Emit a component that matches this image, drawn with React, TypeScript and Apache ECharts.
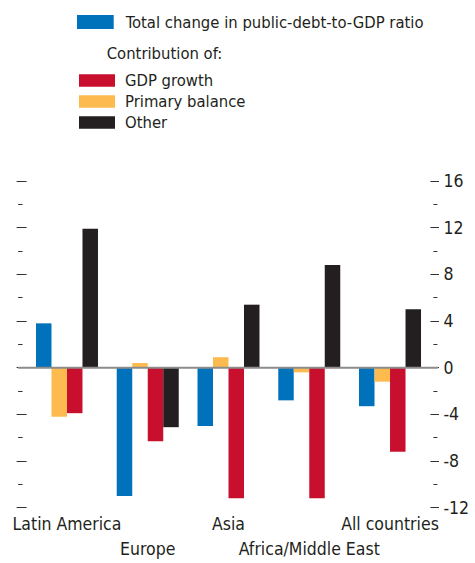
import React, { useEffect, useRef } from 'react';
import * as echarts from 'echarts';

const categories = ['Latin America', 'Europe', 'Asia', 'Africa/Middle East', 'All countries'];
const totalChange = [3.8, -11.0, -5.0, -2.8, -3.3];
const primaryBalance = [-4.2, 0.4, 0.9, -0.4, -1.2];
const gdpGrowth = [-3.9, -6.3, -11.2, -11.2, -7.2];
const other = [11.9, -5.1, 5.4, 8.8, 5.0];

const Y_MIN = -12;
const Y_MAX = 16;

const FONT = "'Liberation Sans Narrow', 'Arial Narrow', 'DejaVu Sans Condensed', sans-serif";
const INK = '#231F20';
const BLUE = '#0072BC';
const RED = '#C8102E';
const YELLOW = '#FDBB4F';
const BLACK = '#231F20';

const NAME_TOTAL = 'Total change in public-debt-to-GDP ratio';
const NAME_GDP = 'GDP growth';
const NAME_PB = 'Primary balance';
const NAME_OTHER = 'Other';

export default function App() {
  const ref = useRef<HTMLDivElement>(null);
  useEffect(() => {
    document.body.style.margin = '0';
    if (!ref.current) return;
    const chart = echarts.init(ref.current, undefined, { renderer: 'svg' });
    const baseY = {
      type: 'value' as const,
      min: Y_MIN,
      max: Y_MAX,
      splitLine: { show: false },
      axisLine: { show: false },
    };
    chart.setOption({
      animation: false,
      textStyle: { fontFamily: FONT },
      grid: { left: 26.6, right: 44.6, top: 181, bottom: 55.3, containLabel: false },
      legend: [
        {
          data: [NAME_TOTAL],
          left: 72,
          top: 8,
          itemWidth: 36.7,
          itemHeight: 14,
          icon: 'rect',
          selectedMode: false,
          textStyle: { fontFamily: FONT, fontSize: 16.5, color: INK, padding: [0, 0, 0, 7], lineHeight: 18 },
        },
        {
          data: [NAME_GDP, NAME_PB, NAME_OTHER],
          orient: 'vertical',
          left: 74,
          top: 66.5,
          itemWidth: 36,
          itemHeight: 12.7,
          itemGap: 3,
          icon: 'rect',
          selectedMode: false,
          textStyle: { fontFamily: FONT, fontSize: 16.5, color: INK, padding: [0, 0, 0, 5], lineHeight: 18 },
        },
      ],
      xAxis: {
        type: 'category',
        data: categories,
        axisLine: { lineStyle: { color: '#333', width: 1 } },
        axisTick: { inside: true, length: 9, alignWithLabel: true, lineStyle: { color: '#333' } },
        axisLabel: {
          interval: 0,
          fontSize: 17.5,
          lineHeight: 25,
          margin: 4,
          color: INK,
          fontFamily: FONT,
          formatter: (v: string, i: number) => (i % 2 ? '\n' + v : v),
        },
      },
      yAxis: [
        {
          ...baseY,
          position: 'left',
          interval: 4,
          axisTick: { show: true, length: 10, lineStyle: { color: '#333' } },
          axisLabel: { show: false },
        },
        {
          ...baseY,
          position: 'left',
          offset: 4,
          interval: 2,
          axisTick: { show: true, length: 4.5, lineStyle: { color: '#333' } },
          axisLabel: { show: false },
        },
        {
          ...baseY,
          position: 'right',
          interval: 4,
          axisTick: { show: true, length: 8.6, lineStyle: { color: '#333' } },
          axisLabel: { show: true, margin: 13, fontSize: 17.5, color: INK, fontFamily: FONT },
        },
        {
          ...baseY,
          position: 'right',
          offset: 3,
          interval: 2,
          axisTick: { show: true, length: 4, lineStyle: { color: '#333' } },
          axisLabel: { show: false },
        },
      ],
      series: [
        { name: NAME_TOTAL, type: 'bar', data: totalChange, itemStyle: { color: BLUE }, barWidth: 15.5, barGap: '0%' },
        { name: NAME_PB, type: 'bar', data: primaryBalance, itemStyle: { color: YELLOW }, barWidth: 15.5, barGap: '0%' },
        { name: NAME_GDP, type: 'bar', data: gdpGrowth, itemStyle: { color: RED }, barWidth: 15.5, barGap: '0%' },
        { name: NAME_OTHER, type: 'bar', data: other, itemStyle: { color: BLACK }, barWidth: 15.5, barGap: '0%' },
      ],
    });
    const y0 = chart.convertToPixel({ yAxisIndex: 0 }, 0) as number;
    chart.setOption({
      graphic: [
        {
          type: 'text',
          left: 106.7,
          top: 45,
          style: { text: 'Contribution of:', fontSize: 16.5, fontFamily: FONT, fill: INK },
        },
        {
          type: 'line',
          z: 100,
          shape: { x1: 18, y1: y0, x2: 438, y2: y0 },
          style: { stroke: '#8c8c8c', lineWidth: 2 },
        },
      ],
    });
    return () => chart.dispose();
  }, []);
  return <div ref={ref} style={{ width: 475, height: 563 }} />;
}
